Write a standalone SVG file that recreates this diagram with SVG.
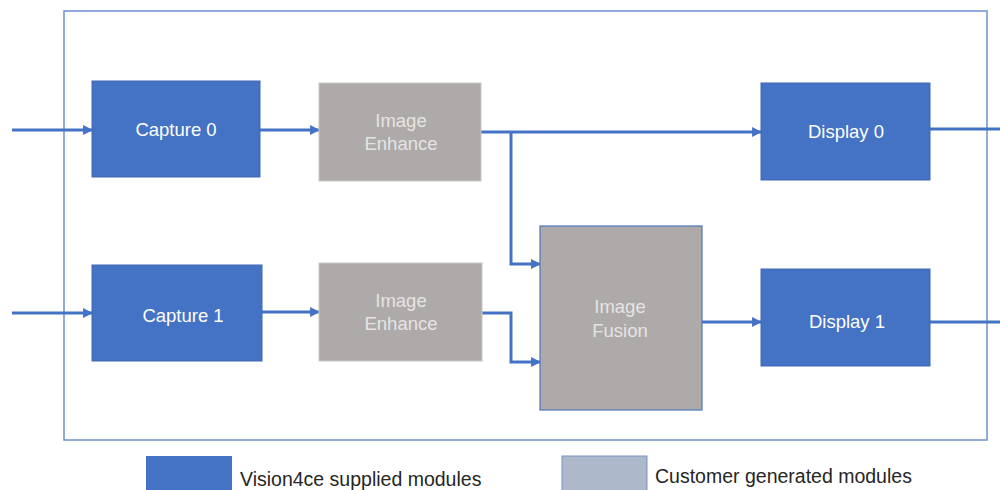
<svg xmlns="http://www.w3.org/2000/svg" width="1000" height="490" viewBox="0 0 1000 490">
  <style>
    .frame { fill: none; stroke: #6f8fcf; stroke-width: 1.5; }
    .supplied { fill: #4472c4; stroke: #3f68b5; stroke-width: 1; }
    .custom { fill: #adaaa9; stroke: #c9c7c6; stroke-width: 1; }
    .fusion { fill: #adaaa9; stroke: #4f76bf; stroke-width: 1.2; }
    .label { font-family: "Liberation Sans", Arial, sans-serif; font-size: 18.5px; text-anchor: middle; }
    .light { fill: #ffffff; }
    .pale { fill: #e6e4e3; }
    .legend { font-family: "Liberation Sans", Arial, sans-serif; font-size: 19.5px; fill: #262626; }
    .wire { fill: none; stroke: #4472c4; stroke-width: 3; stroke-linejoin: miter; }
  </style>
  <defs>
    <marker id="arrow" viewBox="0 0 10 10" refX="9" refY="5" markerWidth="3.8" markerHeight="3.3" orient="auto" markerUnits="strokeWidth">
      <path d="M0,0 L10,5 L0,10 z" fill="#4472c4"/>
    </marker>
  </defs>

  <rect width="1000" height="490" fill="#ffffff"/>

  <!-- system boundary -->
  <rect class="frame" x="64" y="11" width="923" height="429"/>

  <!-- connectors -->
  <g id="connectors">
    <path class="wire" d="M12,130 L92,130" marker-end="url(#arrow)"/>
    <path class="wire" d="M260,130 L319,130" marker-end="url(#arrow)"/>
    <path class="wire" d="M481,132 L761,132" marker-end="url(#arrow)"/>
    <path class="wire" d="M511,132 L511,264 L540,264" marker-end="url(#arrow)"/>
    <path class="wire" d="M930,129 L1000,129"/>
    <path class="wire" d="M12,313 L92,313" marker-end="url(#arrow)"/>
    <path class="wire" d="M262,312 L319,312" marker-end="url(#arrow)"/>
    <path class="wire" d="M482,313 L511,313 L511,362 L540,362" marker-end="url(#arrow)"/>
    <path class="wire" d="M702,322 L761,322" marker-end="url(#arrow)"/>
    <path class="wire" d="M930,322 L1000,322"/>
  </g>

  <!-- modules -->
  <g id="capture0">
    <rect class="supplied" x="92" y="81" width="168" height="96"/>
    <text class="label light" x="176" y="136">Capture 0</text>
  </g>
  <g id="enhance0">
    <rect class="custom" x="319" y="83" width="162" height="98"/>
    <text class="label pale" x="401" y="127">Image</text>
    <text class="label pale" x="401" y="150">Enhance</text>
  </g>
  <g id="display0">
    <rect class="supplied" x="761" y="83" width="169" height="97"/>
    <text class="label light" x="846" y="138">Display 0</text>
  </g>
  <g id="capture1">
    <rect class="supplied" x="92" y="265" width="170" height="96"/>
    <text class="label light" x="183" y="322">Capture 1</text>
  </g>
  <g id="enhance1">
    <rect class="custom" x="319" y="263" width="163" height="98"/>
    <text class="label pale" x="401" y="307">Image</text>
    <text class="label pale" x="401" y="330">Enhance</text>
  </g>
  <g id="fusion">
    <rect class="fusion" x="540" y="226" width="162" height="184"/>
    <text class="label pale" x="620" y="313">Image</text>
    <text class="label pale" x="620" y="337">Fusion</text>
  </g>
  <g id="display1">
    <rect class="supplied" x="761" y="269" width="169" height="97"/>
    <text class="label light" x="847" y="328">Display 1</text>
  </g>

  <!-- legend -->
  <g id="legend-supplied">
    <rect x="146" y="456" width="86" height="40" fill="#4472c4"/>
    <text class="legend" x="240" y="486">Vision4ce supplied modules</text>
  </g>
  <g id="legend-custom">
    <rect x="562" y="456" width="85" height="40" fill="#adb9ca" stroke="#7b93c4" stroke-width="1"/>
    <text class="legend" x="655" y="483">Customer generated modules</text>
  </g>
</svg>
